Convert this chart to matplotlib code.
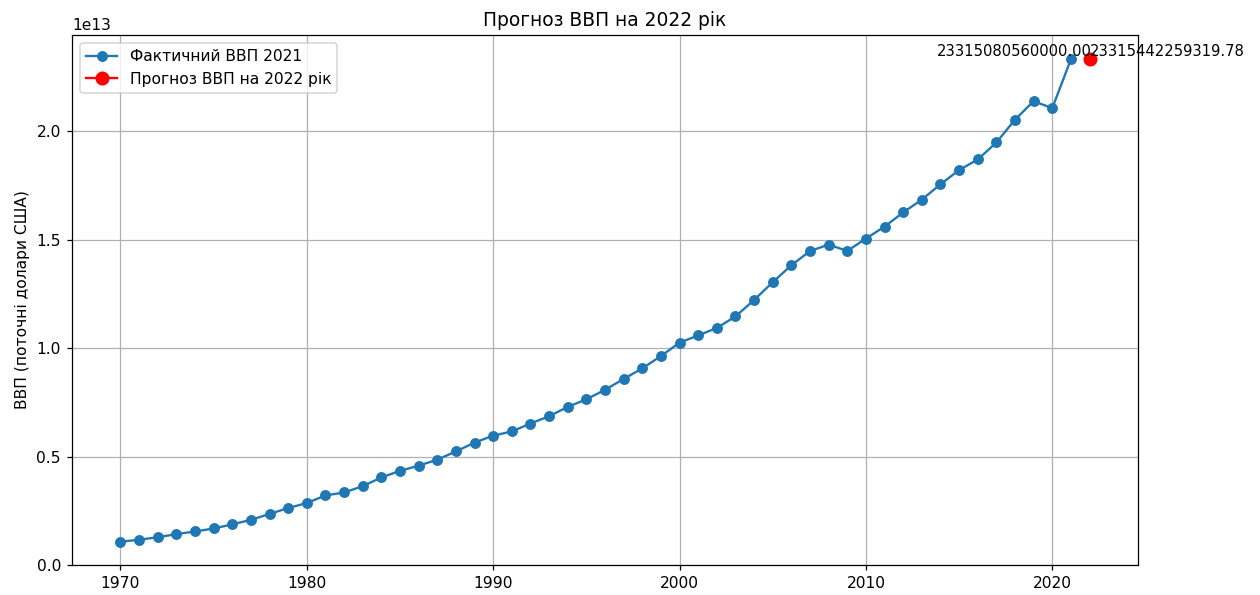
import matplotlib.pyplot as plt

plt.rcParams['font.family'] = 'DejaVu Sans'

# ВВП США у поточних доларах, 1970-2021
years = list(range(1970, 2022))
gdp = [
    1.073e12, 1.165e12, 1.279e12, 1.425e12, 1.545e12, 1.684e12, 1.873e12, 2.082e12,
    2.352e12, 2.627e12, 2.857e12, 3.207e12, 3.343e12, 3.634e12, 4.037e12, 4.339e12,
    4.580e12, 4.855e12, 5.236e12, 5.642e12, 5.963e12, 6.158e12, 6.520e12, 6.859e12,
    7.287e12, 7.640e12, 8.073e12, 8.578e12, 9.063e12, 9.631e12, 10.251e12, 10.582e12,
    10.929e12, 11.457e12, 12.217e12, 13.039e12, 13.816e12, 14.474e12, 14.770e12, 14.478e12,
    15.049e12, 15.600e12, 16.254e12, 16.843e12, 17.551e12, 18.206e12, 18.695e12, 19.477e12,
    20.533e12, 21.381e12, 21.060e12, 23315080560000.00,
]

pred_year = 2022
pred_gdp = 23315442259319.78

fig = plt.figure(figsize=(11.25, 5.3125), dpi=112)
ax = fig.add_axes([0.0571, 0.0504, 0.8461, 0.8906])

ax.plot(years, gdp, marker='o', label='Фактичний ВВП 2021')
ax.plot(pred_year, pred_gdp, marker='o', color='red', markersize=8,
        label='Прогноз ВВП на 2022 рік')

ax.text(pred_year + 0.1, gdp[-1], f'{gdp[-1]:.2f}', ha='right', va='bottom', fontsize=9.5)
ax.text(pred_year, pred_gdp, f'{pred_gdp:.2f}', ha='left', va='bottom', fontsize=9.5)

ax.set_ylim(bottom=0)
ax.set_title('Прогноз ВВП на 2022 рік')
ax.set_ylabel('ВВП (поточні долари США)')
ax.grid(True)
ax.legend(loc='upper left')

fig.savefig('out.png', dpi=112)
